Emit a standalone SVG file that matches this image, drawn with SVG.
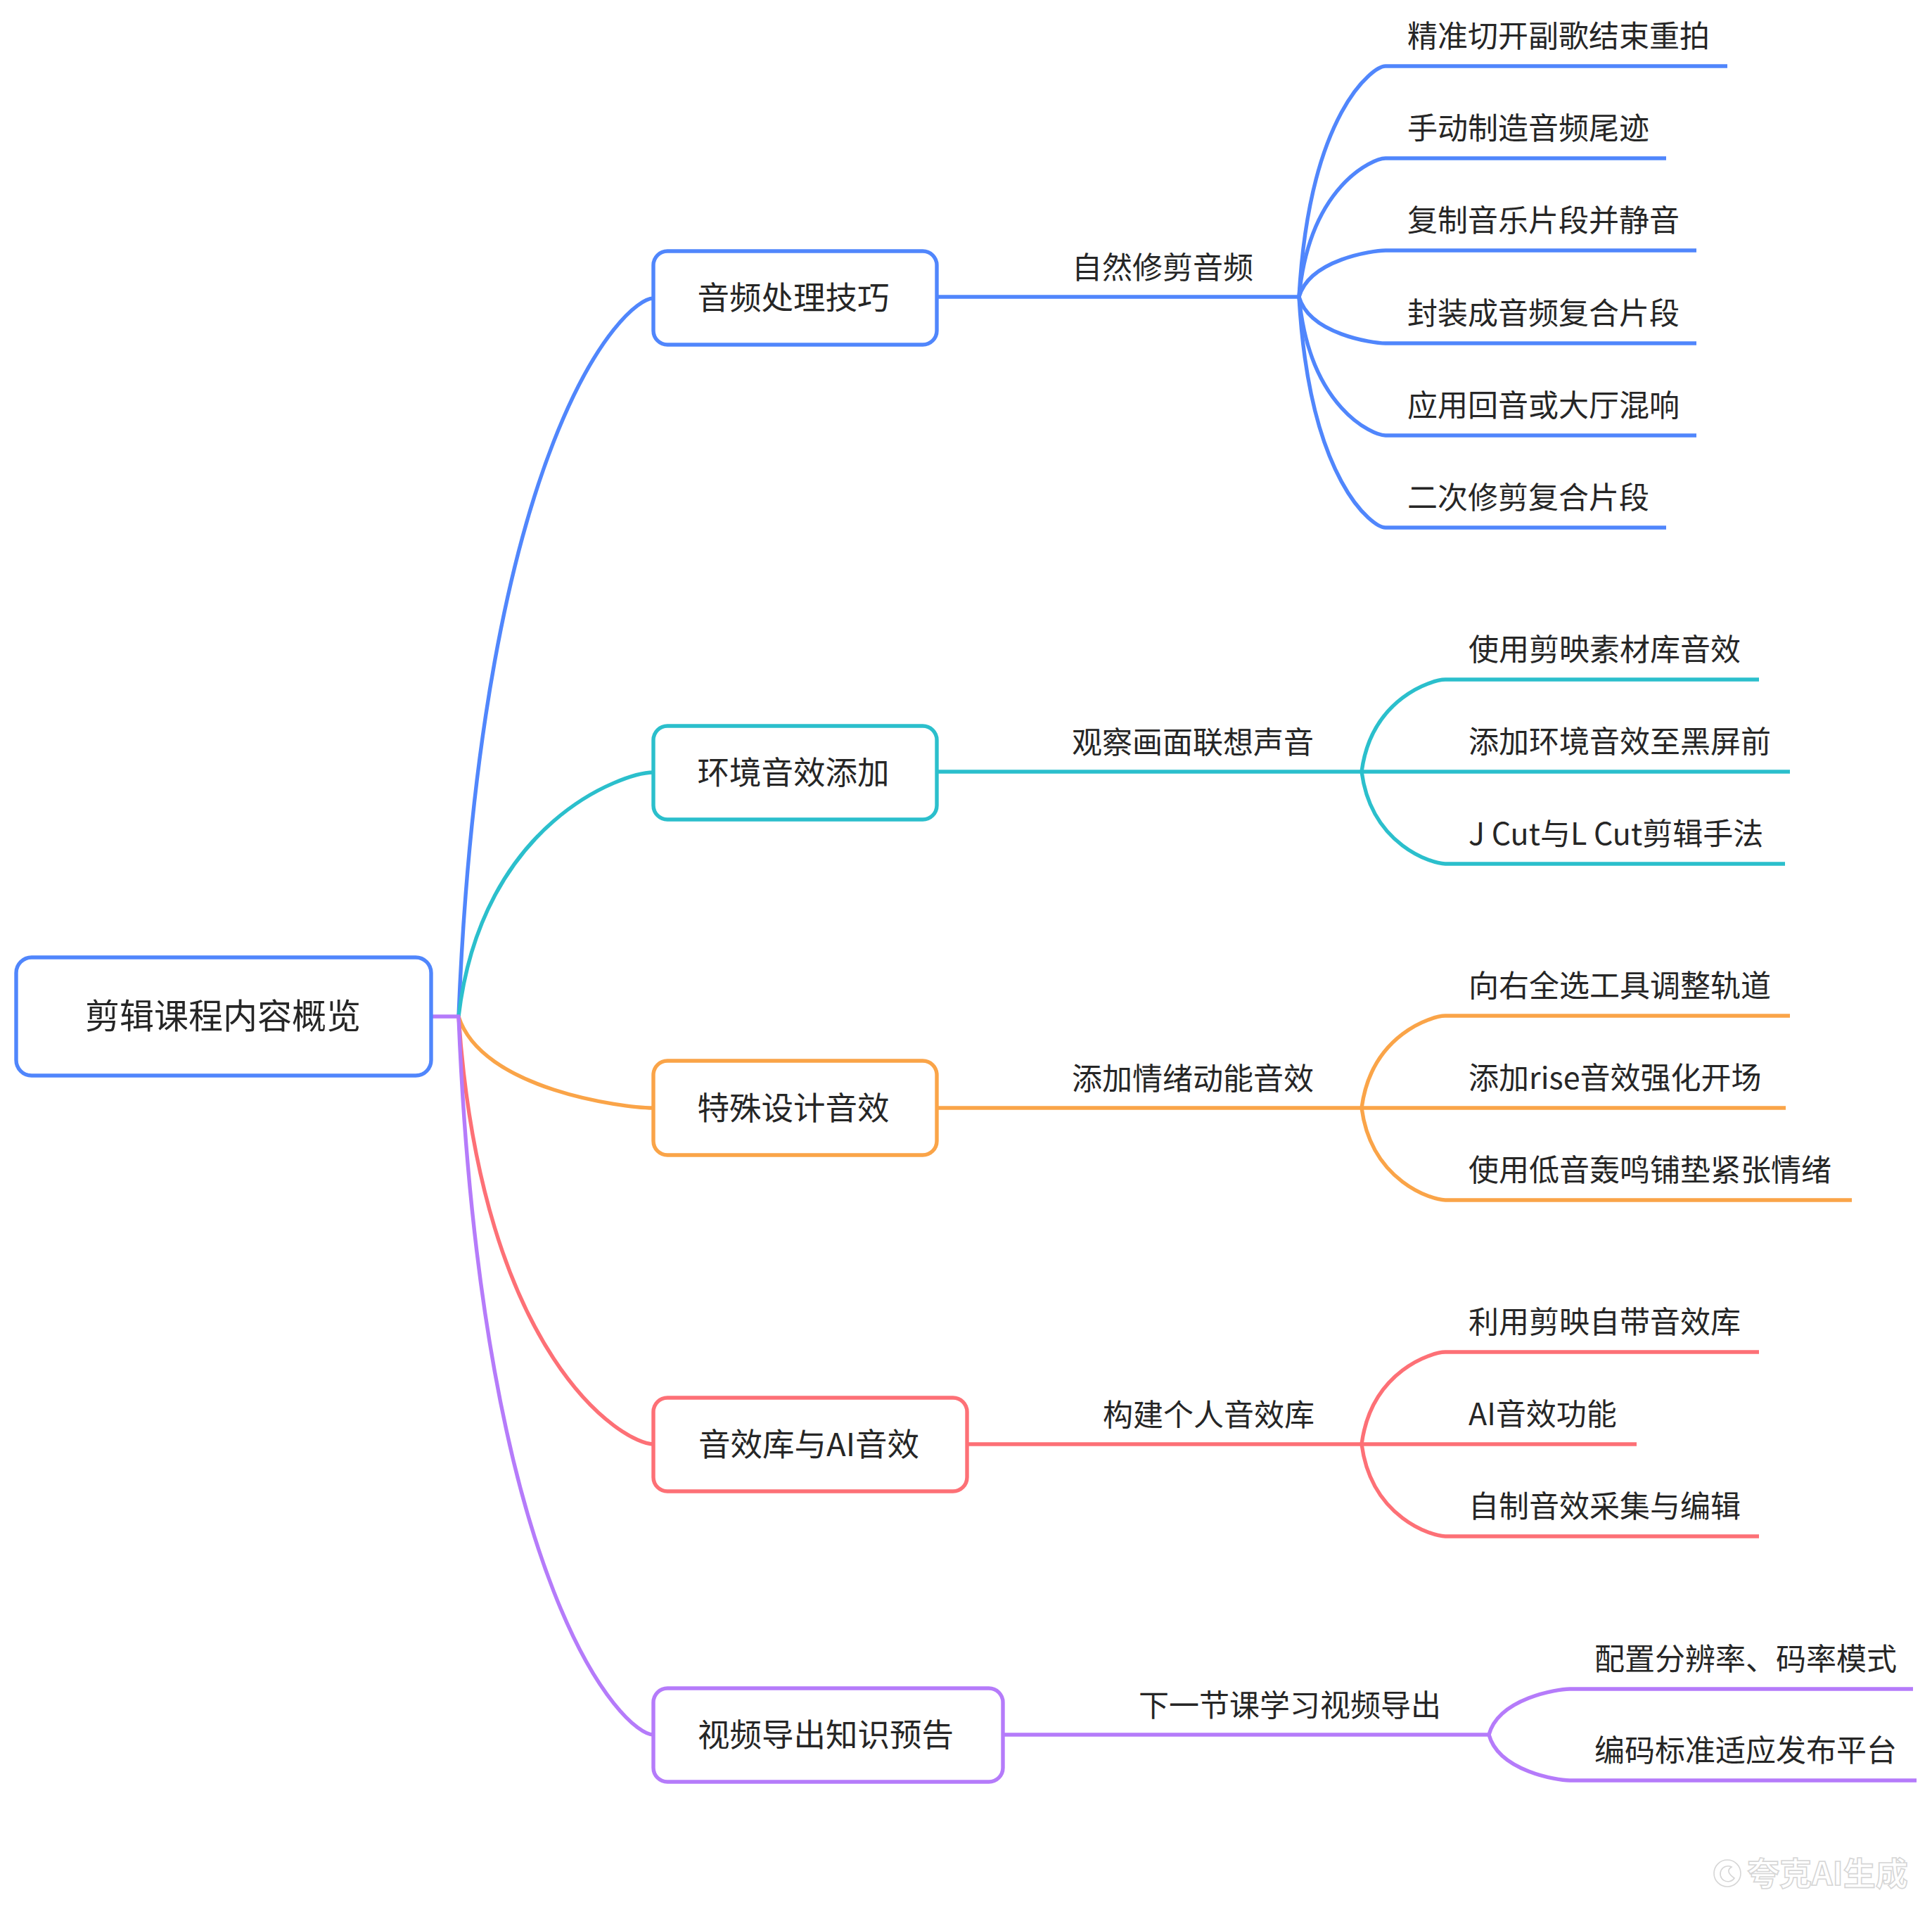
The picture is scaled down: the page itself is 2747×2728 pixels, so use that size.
<svg xmlns="http://www.w3.org/2000/svg" width="2747" height="2728" viewBox="0 0 2747 2728">
<style>
.c{fill:none;stroke-width:5.4;stroke-linecap:butt}
.b{stroke:#5086FC}.y{stroke:#2BBFCC}.o{stroke:#FAA448}.r{stroke:#FD7076}.p{stroke:#B57BFA}
.box{fill:#fff;stroke-width:5.4}
text{font-family:"Noto Sans CJK SC","Noto Sans",sans-serif;fill:#262626}
.t0{font-size:49px;text-anchor:middle}
.t1{font-size:45.5px;text-anchor:middle}
.t2{font-size:43px}
.wm{font-size:46px;fill:#fff;stroke:#d6d6d6;stroke-width:1.6;font-family:"Noto Sans CJK SC",sans-serif;font-weight:bold}
</style>
<rect width="2747" height="2728" fill="#fff"/>
<g id="connectors">
  <path class="c b" d="M652 1445 C685 628 887 424 929 424"/>
  <path class="c y" d="M652 1445 C685 1167 887 1098 929 1098"/>
  <path class="c o" d="M652 1445 C685 1549 887 1575 929 1575"/>
  <path class="c r" d="M652 1445 C685 1931 887 2053 929 2053"/>
  <path class="c p" d="M652 1445 C685 2262 887 2466 929 2466"/>
  <path class="c p" d="M613 1445 H654"/>
  <path class="c b" d="M1332 422 H1848"/>
  <path class="c y" d="M1332 1097 H1936"/>
  <path class="c o" d="M1332 1575 H1936"/>
  <path class="c r" d="M1375 2053 H1936"/>
  <path class="c p" d="M1426 2466 H2117"/>
  <path class="c b" d="M1847 422 C1862 160 1952 94 1970 94 H2456"/>
  <path class="c b" d="M1847 422 C1862 264 1952 225 1970 225 H2369"/>
  <path class="c b" d="M1847 422 C1862 369 1952 356 1970 356 H2412"/>
  <path class="c b" d="M1847 422 C1862 475 1952 488 1970 488 H2412"/>
  <path class="c b" d="M1847 422 C1862 580 1952 619 1970 619 H2412"/>
  <path class="c b" d="M1847 422 C1862 685 1952 750 1970 750 H2369"/>
  <path class="c y" d="M1936 1097 C1950 992 2037 966 2055 966 H2501"/>
  <path class="c y" d="M1936 1097 H2545"/>
  <path class="c y" d="M1936 1097 C1950 1202 2037 1228 2055 1228 H2538"/>
  <path class="c o" d="M1936 1575 C1950 1470 2037 1444 2055 1444 H2545"/>
  <path class="c o" d="M1936 1575 H2539"/>
  <path class="c o" d="M1936 1575 C1950 1680 2037 1706 2055 1706 H2633"/>
  <path class="c r" d="M1936 2053 C1950 1948 2037 1922 2055 1922 H2501"/>
  <path class="c r" d="M1936 2053 H2327"/>
  <path class="c r" d="M1936 2053 C1950 2158 2037 2184 2055 2184 H2501"/>
  <path class="c p" d="M2117 2466 C2131 2414 2215 2401 2232 2401 H2720"/>
  <path class="c p" d="M2117 2466 C2131 2518 2215 2531 2232 2531 H2725"/>
</g>
<g id="root">
  <rect class="box b" x="23" y="1361" width="590" height="168" rx="22"/>
  <text class="t0" x="317" y="1462">剪辑课程内容概览</text>
</g>
<g id="n1">
  <rect class="box b" x="929" y="357" width="403" height="133" rx="20"/>
  <text class="t1" x="1128" y="440">音频处理技巧</text>
</g>
<g id="n2">
  <rect class="box y" x="929" y="1032" width="403" height="133" rx="20"/>
  <text class="t1" x="1128" y="1115">环境音效添加</text>
</g>
<g id="n3">
  <rect class="box o" x="929" y="1508" width="403" height="134" rx="20"/>
  <text class="t1" x="1128" y="1592">特殊设计音效</text>
</g>
<g id="n4">
  <rect class="box r" x="929" y="1987" width="446" height="133" rx="20"/>
  <text class="t1" x="1150" y="2070">音效库与AI音效</text>
</g>
<g id="n5">
  <rect class="box p" x="929" y="2400" width="497" height="133" rx="20"/>
  <text class="t1" x="1174" y="2483">视频导出知识预告</text>
</g>
<g id="l2">
  <text class="t2" x="1524" y="396">自然修剪音频</text>
  <text class="t2" x="1524" y="1071">观察画面联想声音</text>
  <text class="t2" x="1524" y="1549">添加情绪动能音效</text>
  <text class="t2" x="1568" y="2027">构建个人音效库</text>
  <text class="t2" x="1619" y="2440">下一节课学习视频导出</text>
</g>
<g id="leaves1">
  <text class="t2" x="2001" y="67">精准切开副歌结束重拍</text>
  <text class="t2" x="2001" y="198">手动制造音频尾迹</text>
  <text class="t2" x="2001" y="329">复制音乐片段并静音</text>
  <text class="t2" x="2001" y="461">封装成音频复合片段</text>
  <text class="t2" x="2001" y="592">应用回音或大厅混响</text>
  <text class="t2" x="2001" y="723">二次修剪复合片段</text>
</g>
<g id="leaves2">
  <text class="t2" x="2088" y="939">使用剪映素材库音效</text>
  <text class="t2" x="2088" y="1070">添加环境音效至黑屏前</text>
  <text class="t2" x="2088" y="1201">J Cut与L Cut剪辑手法</text>
</g>
<g id="leaves3">
  <text class="t2" x="2088" y="1417">向右全选工具调整轨道</text>
  <text class="t2" x="2088" y="1548">添加rise音效强化开场</text>
  <text class="t2" x="2088" y="1679">使用低音轰鸣铺垫紧张情绪</text>
</g>
<g id="leaves4">
  <text class="t2" x="2088" y="1895">利用剪映自带音效库</text>
  <text class="t2" x="2088" y="2026">AI音效功能</text>
  <text class="t2" x="2088" y="2157">自制音效采集与编辑</text>
</g>
<g id="leaves5">
  <text class="t2" x="2267" y="2374">配置分辨率、码率模式</text>
  <text class="t2" x="2267" y="2504">编码标准适应发布平台</text>
</g>
<g id="watermark">
  <circle cx="2456" cy="2663" r="19" fill="none" stroke="#d6d6d6" stroke-width="1.6"/>
  <path d="M2466 2670 A11 11 0 1 1 2462 2654 Q2452 2660 2466 2670 Z" fill="none" stroke="#d6d6d6" stroke-width="1.6"/>
  <text class="wm" x="2484" y="2680">夸克AI生成</text>
</g>
</svg>
